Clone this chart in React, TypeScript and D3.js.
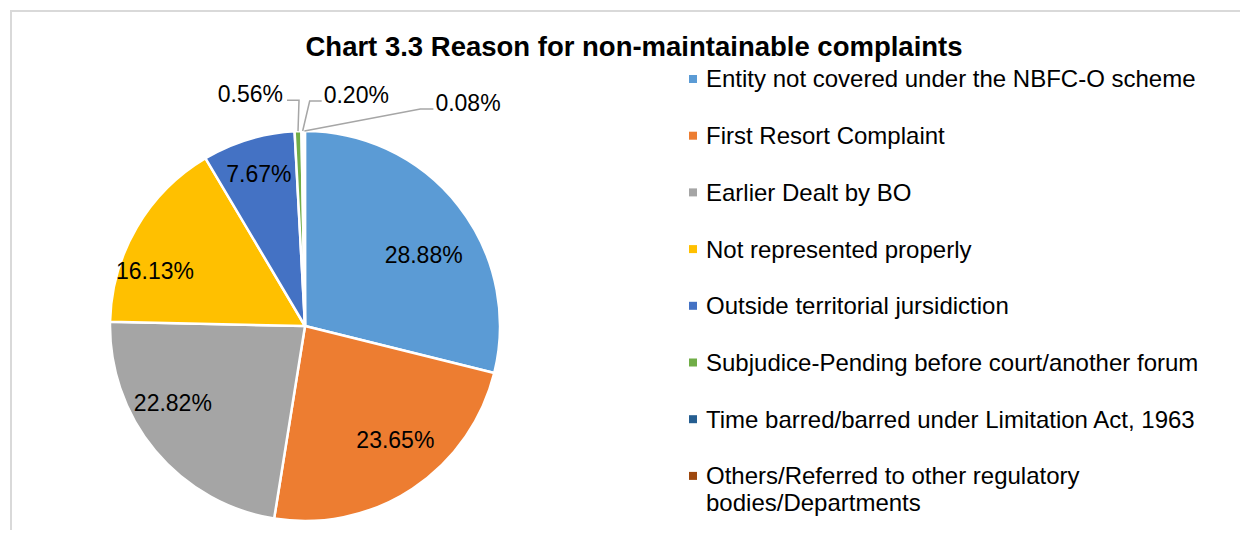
import React, { useEffect, useRef } from "react";
import * as d3 from "d3";

const categories = [
  "Entity not covered under the NBFC-O scheme",
  "First Resort Complaint",
  "Earlier Dealt by BO",
  "Not represented properly",
  "Outside territorial jursidiction",
  "Subjudice-Pending before court/another forum",
  "Time barred/barred under Limitation Act, 1963",
  "Others/Referred to other regulatory bodies/Departments",
];
const values = [28.88, 23.65, 22.82, 16.13, 7.67, 0.56, 0.2, 0.08];
const colors = ["#5B9BD5", "#ED7D31", "#A5A5A5", "#FFC000", "#4472C4", "#70AD47", "#255E91", "#9E480E"];
const title = "Chart 3.3 Reason for non-maintainable complaints";

const W = 1248;
const H = 538;
const FONT = "'Liberation Sans', Arial, sans-serif";

// inside label placement: [angle offset (deg), radius fraction]
const insideLabelLayout: [number, number][] = [
  [7, 0.71],
  [-5, 0.745],
  [9.5, 0.785],
  [-10, 0.82],
  [0, 0.815],
];

export default function App() {
  const ref = useRef<SVGSVGElement | null>(null);

  useEffect(() => {
    const svg = d3.select(ref.current);
    svg.selectAll("*").remove();

    // chart area border
    svg
      .append("rect")
      .attr("x", 11)
      .attr("y", 11)
      .attr("width", W + 20)
      .attr("height", H + 20)
      .attr("fill", "#fff")
      .attr("stroke", "#d9d9d9")
      .attr("stroke-width", 2);

    svg
      .append("text")
      .attr("x", 634)
      .attr("y", 56)
      .attr("text-anchor", "middle")
      .attr("font-family", FONT)
      .attr("font-weight", "bold")
      .attr("font-size", 27.5)
      .attr("fill", "#000")
      .text(title);

    const cx = 305;
    const cy = 326;
    const r = 195;

    const total = d3.sum(values);
    const pie = d3
      .pie<number>()
      .sort(null)
      .value((d) => d)
      .startAngle(0)
      .endAngle((2 * Math.PI * total) / 100);
    const arcs = pie(values);
    const arc = d3.arc<d3.PieArcDatum<number>>().innerRadius(0).outerRadius(r);

    const g = svg.append("g").attr("transform", `translate(${cx},${cy})`);
    g.selectAll("path.slice")
      .data(arcs)
      .join("path")
      .attr("class", "slice")
      .attr("d", arc as any)
      .attr("fill", (_, i) => colors[i])
      .attr("stroke", "#fff")
      .attr("stroke-width", 2.5)
      .attr("stroke-linejoin", "round");

    const fmt = (v: number) => v.toFixed(2) + "%";
    const polar = (ang: number, rad: number) => [Math.sin(ang) * rad, -Math.cos(ang) * rad];

    arcs.slice(0, 5).forEach((a, i) => {
      const [off, frac] = insideLabelLayout[i];
      const mid = (a.startAngle + a.endAngle) / 2 + (off * Math.PI) / 180;
      const [x, y] = polar(mid, r * frac);
      g.append("text")
        .attr("x", x)
        .attr("y", y)
        .attr("dy", "0.35em")
        .attr("text-anchor", "middle")
        .attr("font-family", FONT)
        .attr("font-size", 23)
        .attr("fill", "#000")
        .text(fmt(values[i]));
    });

    // small slices with leader lines
    const lineColor = "#a6a6a6";
    const small = arcs.slice(5);
    const leaders: { ex: number; ey: number; hl: number; side: number }[] = [
      { ex: 1, ey: -31, hl: -12, side: -1 },
      { ex: 7, ey: -30, hl: 12, side: 1 },
      { ex: 116, ey: -22, hl: 13, side: 1 },
    ];
    small.forEach((a, k) => {
      const i = k + 5;
      const mid = (a.startAngle + a.endAngle) / 2;
      const [sx, sy] = polar(mid, r);
      const L = leaders[k];
      const ex = sx + L.ex;
      const ey = sy + L.ey;
      const hx = ex + L.hl;
      g.append("path")
        .attr("d", `M${sx},${sy}L${ex},${ey}L${hx},${ey}`)
        .attr("fill", "none")
        .attr("stroke", lineColor)
        .attr("stroke-width", 1.5);
      g.append("text")
        .attr("x", hx + (L.side > 0 ? 2 : -4))
        .attr("y", ey + 2)
        .attr("text-anchor", L.side > 0 ? "start" : "end")
        .attr("font-family", FONT)
        .attr("font-size", 23)
        .attr("fill", "#000")
        .text(fmt(values[i]));
    });

    // legend
    const legX = 689;
    const legY0 = 79;
    const legStep = 56.7;
    const wrapW = 500;
    const lg = svg.append("g");
    categories.forEach((c, i) => {
      const y = legY0 + i * legStep;
      lg.append("rect")
        .attr("x", legX)
        .attr("y", y - 4)
        .attr("width", 8)
        .attr("height", 8)
        .attr("fill", colors[i]);
      const t = lg
        .append("text")
        .attr("y", y)
        .attr("font-family", FONT)
        .attr("font-size", 24)
        .attr("fill", "#000");
      const words = c.split(" ");
      let line: string[] = [];
      let tspan = t.append("tspan").attr("x", legX + 17).attr("dy", "0.35em");
      words.forEach((w) => {
        line.push(w);
        tspan.text(line.join(" "));
        const node = tspan.node() as SVGTSpanElement;
        if (node.getComputedTextLength() > wrapW && line.length > 1) {
          line.pop();
          tspan.text(line.join(" "));
          line = [w];
          tspan = t.append("tspan").attr("x", legX + 17).attr("dy", 27).text(w);
        }
      });
    });
  }, []);

  return (
    <svg ref={ref} width={W} height={H} style={{ display: "block", margin: "-8px" }} />
  );
}
